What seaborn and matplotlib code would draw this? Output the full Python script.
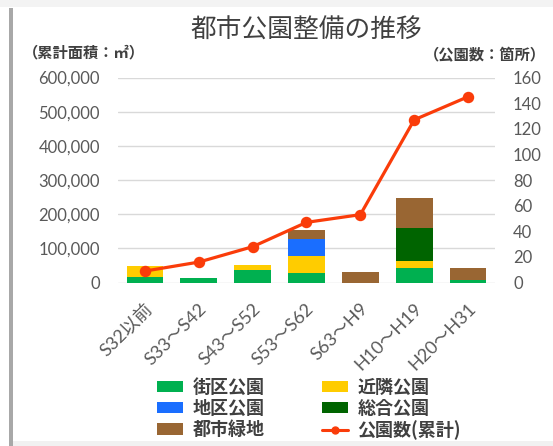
import numpy as np
import pandas as pd
import matplotlib
matplotlib.use("Agg")
import matplotlib.pyplot as plt
import matplotlib.transforms as mtransforms
from matplotlib.patches import Rectangle, Patch
from matplotlib.lines import Line2D
from matplotlib.ticker import FuncFormatter
import seaborn as sns

# ---- data ----
categories = ["S32以前", "S33～S42", "S43～S52", "S53～S62", "S63～H9", "H10～H19", "H20～H31"]
gaiku = [17000, 14000, 37000, 29000, 0, 42000, 8000]        # 街区公園
kinrin = [31000, 0, 14500, 49000, 0, 21000, 0]              # 近隣公園
chiku = [0, 0, 0, 49000, 0, 0, 0]                           # 地区公園
sougou = [0, 0, 0, 0, 0, 98000, 0]                          # 総合公園
ryokuchi = [0, 0, 0, 27000, 31000, 87000, 36000]            # 都市緑地
park_count = [9, 16, 28, 47, 53, 127, 145]                  # 公園数(累計)

series_names = ["街区公園", "近隣公園", "地区公園", "総合公園", "都市緑地"]
series_values = [gaiku, kinrin, chiku, sougou, ryokuchi]
series_colors = ["#00B050", "#FFCC00", "#1A6EFF", "#006400", "#996633"]
line_name = "公園数(累計)"
line_color = "#FA3C0A"

left_ticks = [0, 100000, 200000, 300000, 400000, 500000, 600000]
right_ticks = [0, 20, 40, 60, 80, 100, 120, 140, 160]

# ---- style ----
sns.set_style("white")
plt.rcParams["font.family"] = ["Lato", "Noto Sans CJK JP", "DejaVu Sans"]
CJK = ["Noto Sans CJK JP", "DejaVu Sans"]
tick_color = "#595959"
text_color = "#404040"

W, H = 553, 446
fig = plt.figure(figsize=(W / 100, H / 100), dpi=100)
fig.patch.set_facecolor("white")

ax_l, ax_r, ax_t, ax_b = 118, 495, 77.5, 282.6
ax = fig.add_axes([ax_l / W, 1 - ax_b / H, (ax_r - ax_l) / W, (ax_b - ax_t) / H])
ax.set_facecolor("none")

# stacked bars
bottom = np.zeros(len(categories))
for name, vals, col in zip(series_names, series_values, series_colors):
    sns.barplot(x=categories, y=vals, bottom=bottom, color=col, width=0.68,
                saturation=1, linewidth=0, ax=ax, zorder=3)
    bottom = bottom + np.array(vals, dtype=float)

ax.set_ylim(0, 600000)
ax.set_yticks(left_ticks)
ax.yaxis.set_major_formatter(FuncFormatter(lambda v, p: f"{int(v):,}"))
ax.grid(axis="y", color="#D9D9D9", linewidth=1, zorder=0)
ax.grid(axis="x", visible=False)
ax.set_axisbelow(True)
for s in ax.spines.values():
    s.set_visible(False)
ax.set_xlabel("")
ax.set_ylabel("")

# line on twin axis
ax2 = ax.twinx()
sns.pointplot(x=categories, y=park_count, color=line_color, markers="o",
              linestyles="-", errorbar=None, ax=ax2, markersize=6.5,
              linewidth=2.3)
ax2.set_ylim(0, 160)
ax2.set_yticks(right_ticks)
for s in ax2.spines.values():
    s.set_visible(False)
ax2.set_xlabel("")
ax2.set_ylabel("")
ax2.grid(False)

ax.set_xlim(-0.5, len(categories) - 0.5)
ax.set_xticks(range(len(categories)))
ax.set_xticklabels(categories)

ax.tick_params(axis="y", length=0, pad=13, labelsize=12, labelcolor=tick_color)
ax2.tick_params(axis="y", length=0, pad=13, labelsize=12, labelcolor=tick_color)
ax.tick_params(axis="x", length=0, pad=17, labelsize=13, labelcolor=tick_color)
offset = mtransforms.ScaledTranslation(5 / 100, 0, fig.dpi_scale_trans)
for lab in ax.get_xticklabels():
    lab.set_rotation(45)
    lab.set_ha("right")
    lab.set_va("center")
    lab.set_rotation_mode("anchor")
    lab.set_transform(lab.get_transform() + offset)

# titles / axis labels
fig.text(306 / W, 1 - 31 / H, "都市公園整備の推移", ha="center", va="center",
         fontsize=18.5, color=text_color, family=CJK)
fig.text(23 / W, 1 - 52 / H, "（累計面積：㎡）", ha="left", va="center",
         fontsize=11, color=text_color, family=CJK, fontweight="bold")
fig.text(546 / W, 1 - 55 / H, "（公園数：箇所）", ha="right", va="center",
         fontsize=11, color=text_color, family=CJK, fontweight="bold")

# legend
h = {n: Patch(facecolor=c, edgecolor="none") for n, c in zip(series_names, series_colors)}
line_handle = Line2D([], [], color=line_color, linewidth=2.2, marker="o", markersize=5)
handles = [h["街区公園"], h["地区公園"], h["都市緑地"], h["近隣公園"], h["総合公園"], line_handle]
labels = ["街区公園", "地区公園", "都市緑地", "近隣公園", "総合公園", line_name]
leg = fig.legend(handles, labels, ncol=2, loc="center", bbox_to_anchor=(309 / W, 1 - 409 / H),
                 frameon=False, prop={"family": CJK, "size": 13, "weight": "bold"},
                 handlelength=1.45, handleheight=0.6, handletextpad=0.5,
                 columnspacing=3.2, labelspacing=0.12, borderpad=0)
for t in leg.get_texts():
    t.set_color(text_color)

# card decoration
fig.add_artist(Rectangle((0, 1 - 7 / H), 1, 7 / H, transform=fig.transFigure,
                         facecolor="#F3F3F3", edgecolor="none", zorder=0))
fig.add_artist(Rectangle((9 / W, 0), 4 / W, 1 - 8 / H, transform=fig.transFigure,
                         facecolor="#A8A8A8", edgecolor="none", zorder=0))
fig.add_artist(Rectangle((13 / W, 0), (W - 13) / W, 5 / H, transform=fig.transFigure,
                         facecolor="#F1F1F1", edgecolor="none", zorder=0))

fig.savefig("out.png", dpi=100)
